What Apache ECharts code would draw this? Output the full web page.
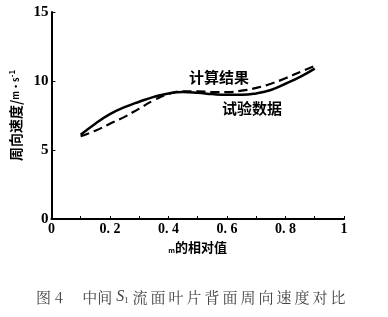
<!DOCTYPE html>
<html>
<head>
<meta charset="utf-8">
<script src="https://cdn.jsdelivr.net/npm/echarts@6/dist/echarts.min.js"></script>
<style>
  html, body { margin: 0; padding: 0; background: #fff; }
  #chart { width: 388px; height: 317px; }
</style>
</head>
<body>
<div id="chart"></div>
<script>
// 叶片相对位置
var xValues = [0.1, 0.15, 0.2, 0.25, 0.3, 0.35, 0.4, 0.45, 0.5, 0.55, 0.6, 0.65, 0.7, 0.75, 0.8, 0.85, 0.9];
// 试验数据 (实线)
var testData = [6.1, 6.9, 7.6, 8.1, 8.5, 8.85, 9.1, 9.2, 9.15, 9.05, 9.0, 9.0, 9.1, 9.35, 9.8, 10.3, 10.9];
// 计算结果 (虚线)
var calcData = [6.0, 6.4, 6.9, 7.4, 8.0, 8.6, 9.05, 9.25, 9.25, 9.2, 9.2, 9.3, 9.5, 9.8, 10.2, 10.65, 11.1];
var xTicks = ['0', '0.2', '0.4', '0.6', '0.8', '1'];

function pairs(ys) {
  return xValues.map(function (x, i) { return [x, ys[i]]; });
}

// 字间加细空格，模拟原图的字距
var captionTail = '流面叶片背面周向速度对比'.split('').join('\u2009');

var chart = echarts.init(document.getElementById('chart'));
var serif = '"Liberation Serif", "Noto Sans CJK SC", serif';
var option = {
  animation: false,
  grid: { left: 48, right: 44, top: 12, bottom: 98 },
  xAxis: {
    type: 'value', min: 0, max: 1, interval: 0.2,
    axisLine: { lineStyle: { color: '#000', width: 2 } },
    axisTick: { inside: true, length: 3, lineStyle: { color: '#000' } },
    minorTick: { show: true, splitNumber: 2, length: 3, lineStyle: { color: '#000' } },
    splitLine: { show: false },
    axisLabel: {
      color: '#000', fontFamily: serif, fontSize: 14, fontWeight: 'bold', margin: 3,
      formatter: function (v) {
        var s = xTicks[Math.round(v * 5)];
        return s.replace('.', '. ');
      }
    },
    name: '{m|m}的相对值',
    nameLocation: 'middle', nameGap: 16,
    nameTextStyle: {
      color: '#000', fontFamily: '"Noto Sans CJK SC"', fontSize: 13, fontWeight: 'bold',
      rich: { m: { fontSize: 7, fontWeight: 'bold', color: '#000', verticalAlign: 'bottom' } }
    }
  },
  yAxis: {
    type: 'value', min: 0, max: 15, interval: 5,
    axisLine: { show: true, lineStyle: { color: '#000', width: 2 } },
    axisTick: { inside: true, length: 4, lineStyle: { color: '#000' } },
    splitLine: { show: false },
    axisLabel: { color: '#000', fontFamily: serif, fontSize: 15, fontWeight: 'bold', margin: 3 },
    name: '周向速度/{m|m·s}{sup|-1}',
    nameLocation: 'middle', nameGap: 18, nameRotate: 90,
    nameTextStyle: {
      color: '#000', fontFamily: '"Noto Sans CJK SC"', fontSize: 14, fontWeight: 'bold',
      rich: {
        m: { fontSize: 9, fontWeight: 'bold', color: '#000' },
        sup: { fontSize: 8, color: '#000', verticalAlign: 'top', padding: [0, 0, 7, 0] }
      }
    }
  },
  series: [
    {
      name: '试验数据', type: 'line', smooth: true, symbol: 'none',
      lineStyle: { color: '#000', width: 2.5 },
      data: pairs(testData)
    },
    {
      name: '计算结果', type: 'line', smooth: true, symbol: 'none',
      lineStyle: { color: '#000', width: 2.2, type: [9, 5] },
      data: pairs(calcData)
    }
  ],
  graphic: [
    { type: 'text', left: 189, top: 70,
      style: { text: '计算结果', font: 'bold 15px "Noto Sans CJK SC"', fill: '#000' } },
    { type: 'text', left: 222, top: 101,
      style: { text: '试验数据', font: 'bold 15px "Noto Sans CJK SC"', fill: '#000' } },
    { type: 'text', left: 36, top: 289,
      style: {
        text: '图 4     中间 {i|S}{sub|1} ' + captionTail,
        font: '15px "Noto Serif CJK SC", "Noto Sans CJK SC"', fill: '#444',
        rich: {
          i: { fontFamily: 'Liberation Serif', fontStyle: 'italic', fontSize: 16, fill: '#444' },
          sub: { fontFamily: 'Liberation Serif', fontSize: 9, fill: '#444', verticalAlign: 'bottom', padding: [7, 0, 0, 0] }
        }
      } }
  ]
};
chart.setOption(option);
</script>
</body>
</html>
